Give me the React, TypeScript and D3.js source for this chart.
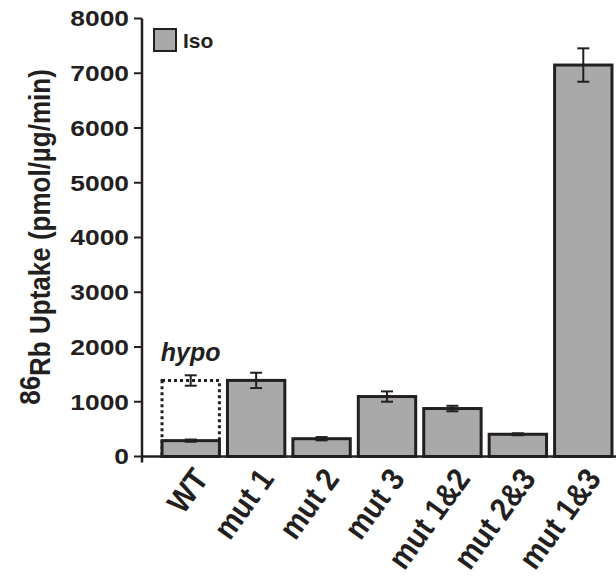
import React from "react";
import * as d3 from "d3";

const categories = ["WT", "mut 1", "mut 2", "mut 3", "mut 1&2", "mut 2&3", "mut 1&3"];
const isoValues = [290, 1390, 325, 1095, 876, 406, 7150];
const isoErrors = [20, 140, 30, 94, 50, 18, 305];
const hypoCategories = ["WT"];
const hypoValues = [1388];
const hypoErrors = [95];
const yTicks = [0, 1000, 2000, 3000, 4000, 5000, 6000, 7000, 8000];

const W = 616;
const H = 579;
const ink = "#231f20";
const barFill = "#a9a9a9";
const font = "'Liberation Sans', Arial, sans-serif";

const App = () => {
  const y = d3.scaleLinear().domain([0, 8000]).range([456.5, 18.5]);
  const x = d3
    .scaleBand<string>()
    .domain(categories)
    .range([158, 616])
    .paddingInner(0.123)
    .paddingOuter(0.0615);
  const bw = x.bandwidth();
  const axisX = 142;
  const cap = 6;

  const errBar = (cx: number, v: number, e: number, key: string) => (
    <g key={key} stroke={ink} strokeWidth={2}>
      <line x1={cx} x2={cx} y1={y(v + e)} y2={y(v - e)} />
      <line x1={cx - cap} x2={cx + cap} y1={y(v + e)} y2={y(v + e)} />
      <line x1={cx - cap} x2={cx + cap} y1={y(v - e)} y2={y(v - e)} />
    </g>
  );

  return (
    <svg width={W} height={H} style={{ position: "absolute", left: 0, top: 0 }} fontFamily={font}>
      {/* hypo bar (dotted) behind */}
      {hypoCategories.map((c, i) => (
        <g key={"h" + c}>
          <rect
            x={x(c)!}
            y={y(hypoValues[i])}
            width={bw}
            height={y(0) - y(hypoValues[i])}
            fill="white"
            stroke={ink}
            strokeWidth={3}
            strokeDasharray="3 3"
          />
          {errBar(x(c)! + bw / 2, hypoValues[i], hypoErrors[i], "he" + c)}
          <text
            x={x(c)! + bw / 2}
            y={y(hypoValues[i]) - 20}
            textAnchor="middle"
            fontSize={25}
            fontWeight="bold"
            fontStyle="italic"
            fill={ink}
          >
            hypo
          </text>
        </g>
      ))}

      {/* iso bars */}
      {categories.map((c, i) => (
        <rect
          key={"b" + c}
          x={x(c)!}
          y={y(isoValues[i])}
          width={bw}
          height={y(0) - y(isoValues[i])}
          fill={barFill}
          stroke={ink}
          strokeWidth={3}
        />
      ))}
      {categories.map((c, i) => errBar(x(c)! + bw / 2, isoValues[i], isoErrors[i], "e" + c))}

      {/* axes */}
      <line x1={axisX} x2={axisX} y1={y(8000)} y2={y(0) + 6} stroke={ink} strokeWidth={2.5} />
      <line x1={axisX} x2={W} y1={y(0)} y2={y(0)} stroke={ink} strokeWidth={2.5} />
      {yTicks.map((t) => (
        <g key={"t" + t} transform={`translate(0,${y(t)})`}>
          <line x1={axisX - 8} x2={axisX} stroke={ink} strokeWidth={2} />
          <text
            transform="translate(129,0) scale(1.2,1)"
            dy="0.36em"
            textAnchor="end"
            fontSize={22}
            fontWeight="bold"
            fill={ink}
          >
            {t}
          </text>
        </g>
      ))}

      {/* x labels */}
      {categories.map((c) => (
        <text
          key={"l" + c}
          transform={`translate(${x(c)! + bw / 2 + 19},479) rotate(-54) scale(1,1.1)`}
          textAnchor="end"
          fontSize={29}
          fontWeight="bold"
          fill={ink}
        >
          {c}
        </text>
      ))}

      {/* y label */}
      <text
        transform="translate(50,237) rotate(-90) scale(1,1.1)"
        textAnchor="middle"
        fontSize={26}
        fontWeight="bold"
        fill={ink}
      >
        <tspan dy={-9}>86</tspan>
        <tspan dy={9}>Rb Uptake (pmol/µg/min)</tspan>
      </text>

      {/* legend */}
      <rect x={154} y={29} width={22} height={22} fill={barFill} stroke={ink} strokeWidth={2} />
      <text x={183} y={48} fontSize={21} fontWeight="bold" fill={ink}>
        Iso
      </text>
    </svg>
  );
};

export default App;
